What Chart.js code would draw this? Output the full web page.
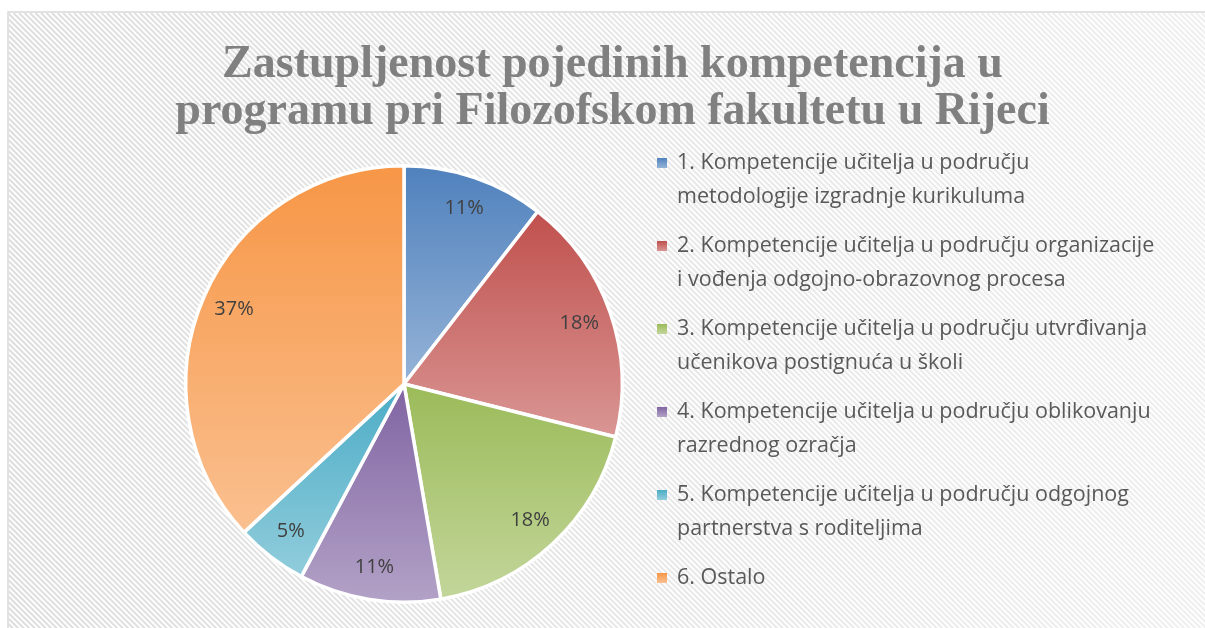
<!DOCTYPE html>
<html>
<head>
<meta charset="utf-8">
<script src="https://cdn.jsdelivr.net/npm/chart.js@4/dist/chart.umd.min.js"></script>
<style>
  html, body { margin: 0; padding: 0; background: #fff; }
  #wrap { width: 1205px; height: 628px; }
</style>
</head>
<body>
<div id="wrap"><canvas id="pie"></canvas></div>
<script>
const titleLines = ['Zastupljenost pojedinih kompetencija u', 'programu pri Filozofskom fakultetu u Rijeci']

const categories = [
  ['1. Kompetencije učitelja u području', 'metodologije izgradnje kurikuluma'],
  ['2. Kompetencije učitelja u području organizacije', 'i vođenja odgojno-obrazovnog procesa'],
  ['3. Kompetencije učitelja u području utvrđivanja', 'učenikova postignuća u školi'],
  ['4. Kompetencije učitelja u području oblikovanju', 'razrednog ozračja'],
  ['5. Kompetencije učitelja u području odgojnog', 'partnerstva s roditeljima'],
  ['6. Ostalo']
]

// share of each slice in percent
const shares = [10.5, 18.4, 18.4, 10.5, 5.3, 36.9]

const topColors = ['#4F81BD', '#C0504D', '#9BBB59', '#8064A2', '#4BACC6', '#F79646']
const bottomColors = ['#95B3D7', '#D99694', '#C3D69B', '#B3A2C7', '#92CDDC', '#FAC090']

// where the pie sits on the canvas
const PIE = { cx: 404, cy: 384, r: 220 }

function sliceYRange(cx, cy, r, a0, a1) {
  let ys = [cy, cy + r * Math.sin(a0), cy + r * Math.sin(a1)]
  for (let k = -2; k <= 2; k++) {
    const down = Math.PI / 2 + k * 2 * Math.PI
    const up = -Math.PI / 2 + k * 2 * Math.PI
    if (down > a0 && down < a1) ys.push(cy + r)
    if (up > a0 && up < a1) ys.push(cy - r)
  }
  return [Math.min(...ys), Math.max(...ys)]
}

function sliceFill(context) {
  const chart = context.chart
  const i = context.dataIndex
  if (!chart.chartArea || i === undefined) return topColors[i] || '#999'
  const total = shares.reduce((a, b) => a + b, 0)
  let before = 0
  for (let j = 0; j < i; j++) before += shares[j]
  const a0 = -Math.PI / 2 + before / total * 2 * Math.PI
  const a1 = a0 + shares[i] / total * 2 * Math.PI
  const [y0, y1] = sliceYRange(PIE.cx, PIE.cy, PIE.r, a0, a1)
  const g = chart.ctx.createLinearGradient(0, y0, 0, y1)
  g.addColorStop(0, topColors[i])
  g.addColorStop(1, bottomColors[i])
  return g
}

const background = {
  id: 'background',
  beforeDraw(chart) {
    const ctx = chart.ctx
    const w = chart.width, h = chart.height
    ctx.save()
    ctx.fillStyle = '#fff'
    ctx.fillRect(0, 0, w, h)
    const x0 = 9, y0 = 13
    ctx.beginPath()
    ctx.rect(x0, y0, w - x0, h - y0)
    ctx.clip()
    const g = ctx.createLinearGradient(0, 0, w, 0)
    g.addColorStop(0, '#DEDEDE')
    g.addColorStop(1, '#EFEFEF')
    ctx.strokeStyle = g
    ctx.lineWidth = 2
    for (let k = -h; k < w; k += 5.5) {
      ctx.beginPath()
      ctx.moveTo(x0 + k, y0)
      ctx.lineTo(x0 + k + h, y0 + h)
      ctx.stroke()
    }
    ctx.restore()
    ctx.save()
    ctx.strokeStyle = '#D9D9D9'
    ctx.lineWidth = 1.5
    ctx.beginPath()
    ctx.moveTo(8, h)
    ctx.lineTo(8, 12)
    ctx.lineTo(w, 12)
    ctx.stroke()
    ctx.restore()
  }
}

// put the pie on the left, leaving the right side for the legend
const placePie = {
  id: 'placePie',
  afterLayout(chart) {
    const r = PIE.r
    chart.chartArea = {
      left: PIE.cx - r, right: PIE.cx + r,
      top: PIE.cy - r, bottom: PIE.cy + r,
      width: 2 * r, height: 2 * r
    }
  }
}

const sliceLabels = {
  id: 'sliceLabels',
  afterDatasetsDraw(chart) {
    const ctx = chart.ctx
    const meta = chart.getDatasetMeta(0)
    ctx.save()
    ctx.font = '20px "Open Sans", "Noto Sans", sans-serif'
    ctx.fillStyle = '#404040'
    ctx.textAlign = 'center'
    ctx.textBaseline = 'middle'
    meta.data.forEach((arc, i) => {
      const p = arc.getProps(['x', 'y', 'startAngle', 'endAngle', 'outerRadius'], true)
      const mid = (p.startAngle + p.endAngle) / 2
      const d = p.outerRadius * 0.85
      ctx.fillText(Math.round(shares[i]) + '%', p.x + Math.cos(mid) * d, p.y + Math.sin(mid) * d)
    })
    ctx.restore()
  }
}

const sideLegend = {
  id: 'sideLegend',
  afterDraw(chart) {
    const ctx = chart.ctx
    ctx.save()
    ctx.font = '21.5px "Open Sans", "Noto Sans", sans-serif'
    ctx.textBaseline = 'middle'
    ctx.textAlign = 'left'
    let y = 163
    categories.forEach((lines, i) => {
      const g = ctx.createLinearGradient(0, y - 5, 0, y + 5)
      g.addColorStop(0, topColors[i])
      g.addColorStop(1, bottomColors[i])
      ctx.fillStyle = g
      ctx.fillRect(657, y - 5, 10, 10)
      ctx.fillStyle = '#595959'
      lines.forEach((line, j) => ctx.fillText(line, 677, y + j * 34))
      y += lines.length * 34 + 15
    })
    ctx.restore()
  }
}

new Chart(document.getElementById('pie'), {
  type: 'pie',
  data: {
    labels: categories,
    datasets: [{
      data: shares,
      backgroundColor: sliceFill,
      borderColor: '#ffffff',
      borderWidth: 3.5
    }]
  },
  options: {
    responsive: true,
    maintainAspectRatio: false,
    animation: false,
    layout: { padding: { left: 20 } },
    plugins: {
      legend: { display: false },
      tooltip: { enabled: false },
      title: {
        display: true,
        text: titleLines,
        color: '#808080',
        font: { family: '"Liberation Serif", "DejaVu Serif", serif', size: 46, weight: 'bold', lineHeight: 1.02 },
        padding: { top: 42, bottom: 25 }
      }
    }
  },
  plugins: [background, placePie, sliceLabels, sideLegend]
})
</script>
</body>
</html>
